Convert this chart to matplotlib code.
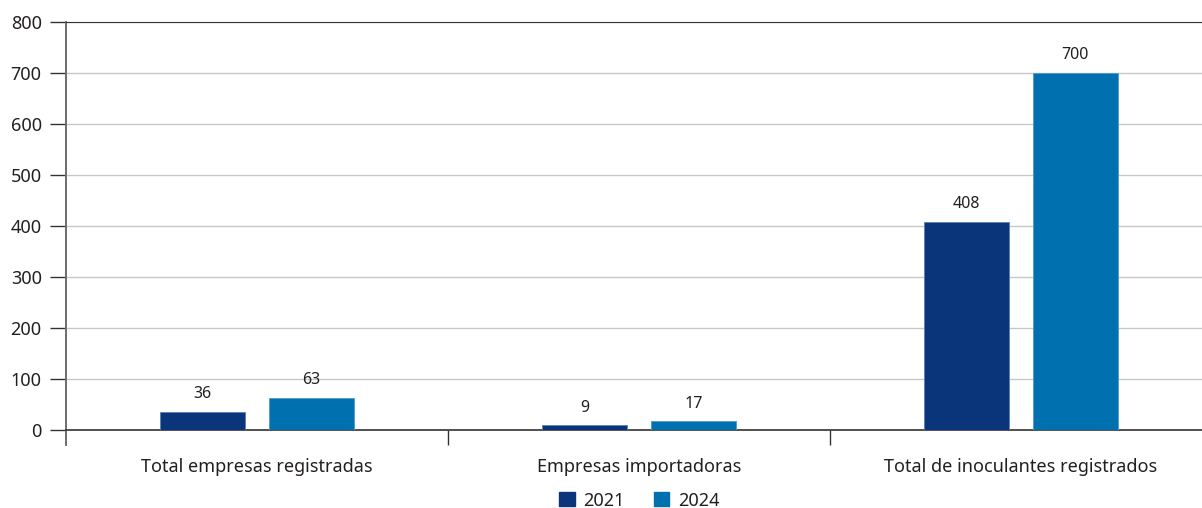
import numpy as np
import matplotlib
matplotlib.use('Agg')
import matplotlib.pyplot as plt
from matplotlib.patches import Patch

plt.rcParams['font.family'] = ['Noto Sans', 'DejaVu Sans']

categories = ['Total empresas registradas', 'Empresas importadoras',
              'Total de inoculantes registrados']
years = ['2021', '2024']
values_2021 = [36, 9, 408]
values_2024 = [63, 17, 700]
yticks = [0, 100, 200, 300, 400, 500, 600, 700, 800]

col_2021 = '#0a357b'
col_2024 = '#0071ae'
text_col = '#231f20'

fig = plt.figure(figsize=(12.02, 5.08), dpi=100)
ax = fig.add_axes([66 / 1202, 78 / 508, 1136 / 1202, 408 / 508])

x = np.arange(len(categories))
width = 0.223
off = 0.142
b1 = ax.bar(x - off, values_2021, width, color=col_2021, edgecolor='#5a7fb5', linewidth=0.6, zorder=3)
b2 = ax.bar(x + off, values_2024, width, color=col_2024, edgecolor='#4f9bcc', linewidth=0.6, zorder=3)

for bars, vals in ((b1, values_2021), (b2, values_2024)):
    for r, v in zip(bars, vals):
        ax.annotate(str(v), (r.get_x() + r.get_width() / 2, v), xytext=(0, 7),
                    textcoords='offset points', ha='center', va='bottom',
                    fontsize=11.5, color=text_col)

ax.set_ylim(0, 800)
ax.set_xlim(-0.5, -0.5 + 1136 / 382)
ax.set_yticks(yticks)
ax.set_yticklabels([str(t) for t in yticks], fontsize=13, color=text_col)
ax.tick_params(axis='y', length=11.5, width=1.0, color='#333333', pad=6)
ax.yaxis.grid(True, color='#c8c8c8', linewidth=1.0, zorder=0)

ax.set_xticks(x)
ax.set_xticklabels(categories, fontsize=13, color=text_col)
ax.tick_params(axis='x', which='major', length=0, pad=20)
ax.set_xticks([0.5, 1.5], minor=True)
ax.tick_params(axis='x', which='minor', length=11, width=1.0, color='#333333')

ax.spines['right'].set_visible(False)
ax.spines['top'].set_color('#333333')
ax.spines['bottom'].set_color('#333333')
ax.spines['bottom'].set_linewidth(1.2)
ax.spines['left'].set_color('#6d6d6d')
ax.spines['left'].set_linewidth(1.4)
ax.plot([0, 0], [0, -15 / 408], transform=ax.transAxes, color='#6d6d6d',
        linewidth=1.4, clip_on=False)

handles = [Patch(color=col_2021, label=years[0]), Patch(color=col_2024, label=years[1])]
fig.legend(handles=handles, loc='lower center', bbox_to_anchor=(0.532, -0.035), ncol=2,
           frameon=False, fontsize=13, handlelength=0.85, handleheight=0.85,
           handletextpad=0.5, columnspacing=1.6, labelcolor=text_col)

fig.savefig('out.png', dpi=100)
